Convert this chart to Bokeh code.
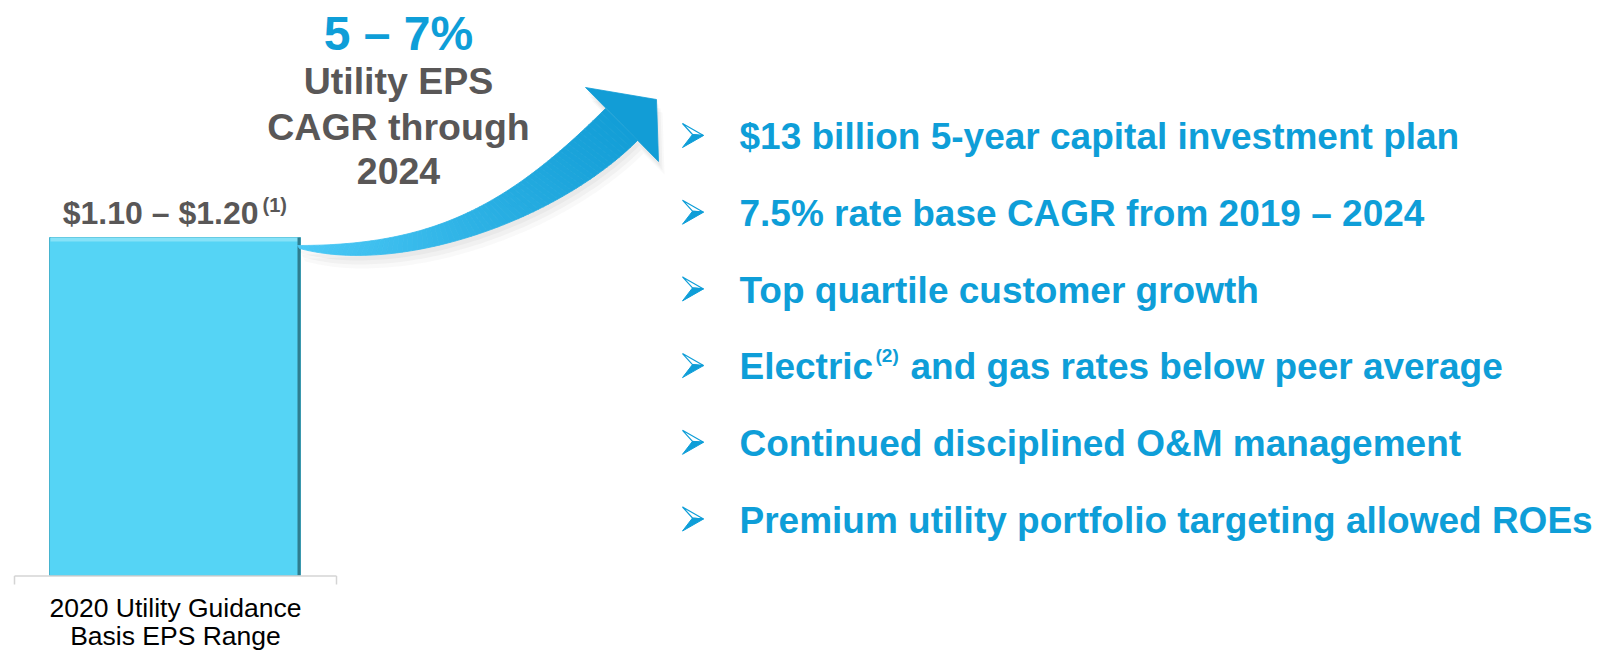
import numpy as np
from bokeh.plotting import figure
from bokeh.models import Range1d
from bokeh.core.properties import value
from bokeh.embed import file_html
from bokeh.resources import INLINE

# ---------------- data ----------------
category_lines = ["2020 Utility Guidance", "Basis EPS Range"]
eps_low = 1.10
eps_high = 1.20
eps_label = "$1.10 \u2013 $1.20"
eps_note = "(1)"
growth_label = "5 \u2013 7%"
growth_caption = ["Utility EPS", "CAGR through", "2024"]
bullet_main = [
    "$13 billion 5-year capital investment plan",
    "7.5% rate base CAGR from 2019 \u2013 2024",
    "Top quartile customer growth",
    "Electric",
    "Continued disciplined O&M management",
    "Premium utility portfolio targeting allowed ROEs",
]
bullet_note = ["", "", "", "(2)", "", ""]
bullet_tail = ["", "", "", "and gas rates below peer average", "", ""]

# ---------------- styles ----------------
BLUE = "#0e9ed8"
GRAY = "#595757"
FONT = value("Liberation Sans")
K = 0.29  # baseline correction factor (fraction of font size)

def by(baseline, size):
    return baseline - K * size

W, H = 1612, 651
p = figure(width=W, height=H, x_range=Range1d(0, W), y_range=Range1d(H, 0),
           output_backend="svg", toolbar_location=None, min_border=0)
p.axis.visible = False
p.grid.visible = False
p.outline_line_color = None
p.background_fill_color = "white"

# value scale for the bar (0 at the baseline pixel, eps_high at the bar top)
base_px, top_px = 575, 237
px_per = (base_px - top_px) / eps_high
p.extra_y_ranges = {"eps": Range1d(-(H - base_px) / px_per, base_px / px_per)}

bar_x, bar_w = 174.5, 251
p.vbar(x=[bar_x], width=bar_w, bottom=0, top=[eps_high], y_range_name="eps",
       fill_color="#55d4f5", line_color="#46b4cf", line_width=1)
p.vbar(x=[bar_x], width=bar_w - 2, bottom=eps_high - 4 / px_per, top=[eps_high], y_range_name="eps",
       fill_color="#86e2f8", line_color=None)
p.vbar(x=[bar_x + bar_w / 2 - 1.5], width=3, bottom=0, top=[eps_high], y_range_name="eps",
       fill_color="#2f7c8e", line_color=None)

# category axis line with end ticks
p.segment(x0=[14], y0=[575.5], x1=[336], y1=[575.5], line_color="#d4d4d4", line_width=1.5)
p.segment(x0=[14, 336], y0=[575.5, 575.5], x1=[14, 336], y1=[584, 584], line_color="#d4d4d4", line_width=1.5)
fs = 26.5
p.text(x=[175, 175], y=[by(615, fs), by(643, fs)], text=category_lines, text_font=FONT,
       text_font_size=f"{fs}px", text_color="black", text_align="center", text_baseline="alphabetic")

# bar value label
fs = 32
p.text(x=[258], y=[by(222, fs)], text=[eps_label], text_font=FONT, text_font_style="bold",
       text_font_size=f"{fs}px", text_color=GRAY, text_align="right", text_baseline="alphabetic")
fs = 20
p.text(x=[262], y=[by(210, fs)], text=[eps_note], text_font=FONT, text_font_style="bold",
       text_font_size=f"{fs}px", text_color=GRAY, text_align="left", text_baseline="alphabetic")

# growth text
fs = 48
p.text(x=[398], y=[by(47, fs)], text=[growth_label], text_font=FONT, text_font_style="bold",
       text_font_size=f"{fs}px", text_color=BLUE, text_align="center", text_baseline="alphabetic")
fs = 37.5
p.text(x=[398] * 3, y=[by(b, fs) for b in (91, 137, 181)], text=growth_caption, text_font=FONT,
       text_font_style="bold", text_font_size=f"{fs}px", text_color=GRAY, text_align="center",
       text_baseline="alphabetic")

# ---------------- curved arrow ----------------
def cubic(P, t):
    P = np.array(P, dtype=float)
    t = np.asarray(t)[:, None]
    return ((1 - t) ** 3) * P[0] + 3 * ((1 - t) ** 2) * t * P[1] + 3 * (1 - t) * t ** 2 * P[2] + t ** 3 * P[3]

upper = [(297, 245), (430, 245), (505, 208), (605, 108)]
lower = [(299, 248), (400, 275), (557, 220), (637, 140)]
head = [(585, 87), (656, 99), (658, 161)]
N = 70
ts = np.linspace(0, 1, N + 1)
U = cubic(upper, ts)
L = cubic(lower, ts)

outline_x = list(U[:, 0]) + [head[0][0], head[1][0], head[2][0]] + list(L[::-1, 0])
outline_y = list(U[:, 1]) + [head[0][1], head[1][1], head[2][1]] + list(L[::-1, 1])
for dx, dy, a in [(2, 5, 0.05), (4, 9, 0.05), (6, 13, 0.04)]:
    p.patch([x + dx for x in outline_x], [y + dy for y in outline_y], fill_color="#666666",
            fill_alpha=a, line_color=None)

c0 = np.array([0x4c, 0xca, 0xf7])
c1 = np.array([0x12, 0x9d, 0xd6])
xs, ys, cols = [], [], []
for i in range(N):
    qx = [U[i, 0], U[i + 1, 0], L[i + 1, 0], L[i, 0]]
    qy = [U[i, 1], U[i + 1, 1], L[i + 1, 1], L[i, 1]]
    f = np.clip((np.mean(qx) - 300) / 330, 0, 1)
    c = (c0 + (c1 - c0) * f).astype(int)
    xs.append(qx); ys.append(qy)
    cols.append("#%02x%02x%02x" % tuple(c))
p.patches(xs, ys, fill_color=cols, line_color=cols, line_width=0.8)
p.patch([h[0] for h in head], [h[1] for h in head], fill_color="#129dd6", line_color="#129dd6", line_width=0.8)

# ---------------- bullets ----------------
n = len(bullet_main)
base0, step = 147, 76.7
ys_b = [base0 + i * step for i in range(n)]
bx = 682
up_x, up_y, lo_x, lo_y = [], [], [], []
for b in ys_b:
    c = b - 12
    up_x.append([bx, bx + 21, bx + 10]); up_y.append([c - 12, c, c - 1])
    lo_x.append([bx + 10, bx + 21, bx]); lo_y.append([c - 1, c, c + 12])
p.patches(up_x, up_y, fill_color="white", line_color=BLUE, line_width=1.2)
p.patches(lo_x, lo_y, fill_color=BLUE, line_color=BLUE, line_width=1)

fs = 37
p.text(x=[739] * n, y=[by(b, fs) for b in ys_b], text=bullet_main, text_font=FONT, text_font_style="bold",
       text_font_size=f"{fs}px", text_color=BLUE, text_align="left", text_baseline="alphabetic")
note_idx = [i for i in range(n) if bullet_note[i]]
p.text(x=[875] * len(note_idx), y=[by(ys_b[i] - 17, 19) for i in note_idx],
       text=[bullet_note[i] for i in note_idx], text_font=FONT, text_font_style="bold",
       text_font_size="19px", text_color=BLUE, text_align="left", text_baseline="alphabetic")
p.text(x=[910] * len(note_idx), y=[by(ys_b[i], fs) for i in note_idx], text=[bullet_tail[i] for i in note_idx],
       text_font=FONT, text_font_style="bold", text_font_size=f"{fs}px", text_color=BLUE,
       text_align="left", text_baseline="alphabetic")

open("out.html", "w").write(file_html(p, INLINE))
